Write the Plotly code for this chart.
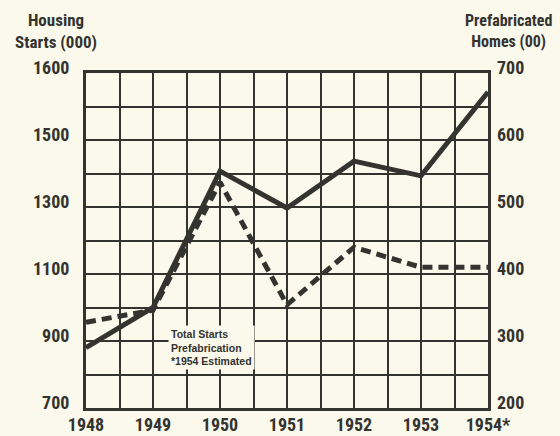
import plotly.graph_objects as go

years = [1948, 1949, 1950, 1951, 1952, 1953, 1954]
year_labels = ["1948", "1949", "1950", "1951", "1952", "1953", "1954*"]
total_starts = [880, 1000, 1407, 1297, 1437, 1393, 1643]      # left axis (000)
prefab_homes = [328, 346, 537, 354, 440, 410, 410]             # right axis (00)
left_ticks = [700, 900, 1100, 1300, 1500, 1700]
left_tick_text = ["700", "900", "1100", "1300", "1500", "1600"]
right_ticks = [200, 300, 400, 500, 600, 700]

INK = "#333330"
BG = "#FBF9EC"
FONT = "Roboto Condensed, Liberation Sans Narrow, Roboto, sans-serif"

fig = go.Figure()
fig.add_trace(go.Scatter(x=years, y=prefab_homes, yaxis="y2", mode="lines",
                         line=dict(color=INK, width=5, dash="10px,6px"),
                         name="Prefabrication", showlegend=False))
fig.add_trace(go.Scatter(x=years, y=total_starts, mode="lines",
                         line=dict(color=INK, width=5),
                         name="Total Starts", showlegend=False))

tickfont = dict(family=FONT, size=18, color=INK, weight="bold")

fig.update_layout(
    width=560, height=436,
    margin=dict(l=86, r=72, t=73, b=28, autoexpand=False),
    paper_bgcolor=BG, plot_bgcolor=BG,
    xaxis=dict(range=[1948, 1954], tickvals=years, ticktext=year_labels,
               showgrid=True, gridcolor=INK, gridwidth=2, automargin=False,
               minor=dict(dtick=0.5, tick0=1948, showgrid=True, gridcolor=INK, gridwidth=2),
               showline=True, linecolor=INK, linewidth=3, mirror=True,
               ticks="", ticklabelstandoff=-2, tickfont=tickfont, zeroline=False),
    yaxis=dict(range=[700, 1700], tickvals=left_ticks, ticktext=left_tick_text,
               showgrid=True, gridcolor=INK, gridwidth=2, automargin=False,
               minor=dict(dtick=100, tick0=700, showgrid=True, gridcolor=INK, gridwidth=2),
               showline=True, linecolor=INK, linewidth=3, mirror=True,
               ticks="", ticklabelstandoff=10, ticklabelshift=-5,
               tickfont=tickfont, zeroline=False),
    yaxis2=dict(range=[200, 700], tickvals=right_ticks, overlaying="y", side="right",
                showgrid=False, showline=False, ticks="", ticklabelstandoff=8,
                ticklabelshift=-5,
                automargin=False, tickfont=tickfont, zeroline=False),
    annotations=[
        dict(text="Housing<br>Starts (000)", xref="paper", yref="paper",
             x=-0.075, y=1.125, xanchor="center", yanchor="middle", showarrow=False,
             font=dict(family=FONT, size=17, color=INK, weight="bold")),
        dict(text="Prefabricated<br>Homes (00)", xref="paper", yref="paper",
             x=1.052, y=1.125, xanchor="center", yanchor="middle", showarrow=False,
             font=dict(family=FONT, size=16, color=INK, weight="bold")),
        dict(text="Total Starts<br>Prefabrication<br>*1954 Estimated", xref="paper", yref="paper",
             x=0.205, y=0.182, xanchor="left", yanchor="middle", align="left", showarrow=False,
             bgcolor=BG, borderpad=2,
             font=dict(family="Liberation Sans, Arial, sans-serif", size=10.5, color=INK, weight="bold")),
    ],
)

fig.write_html("out.html", config={"displayModeBar": False},
               post_script="document.body.style.margin='0';")
